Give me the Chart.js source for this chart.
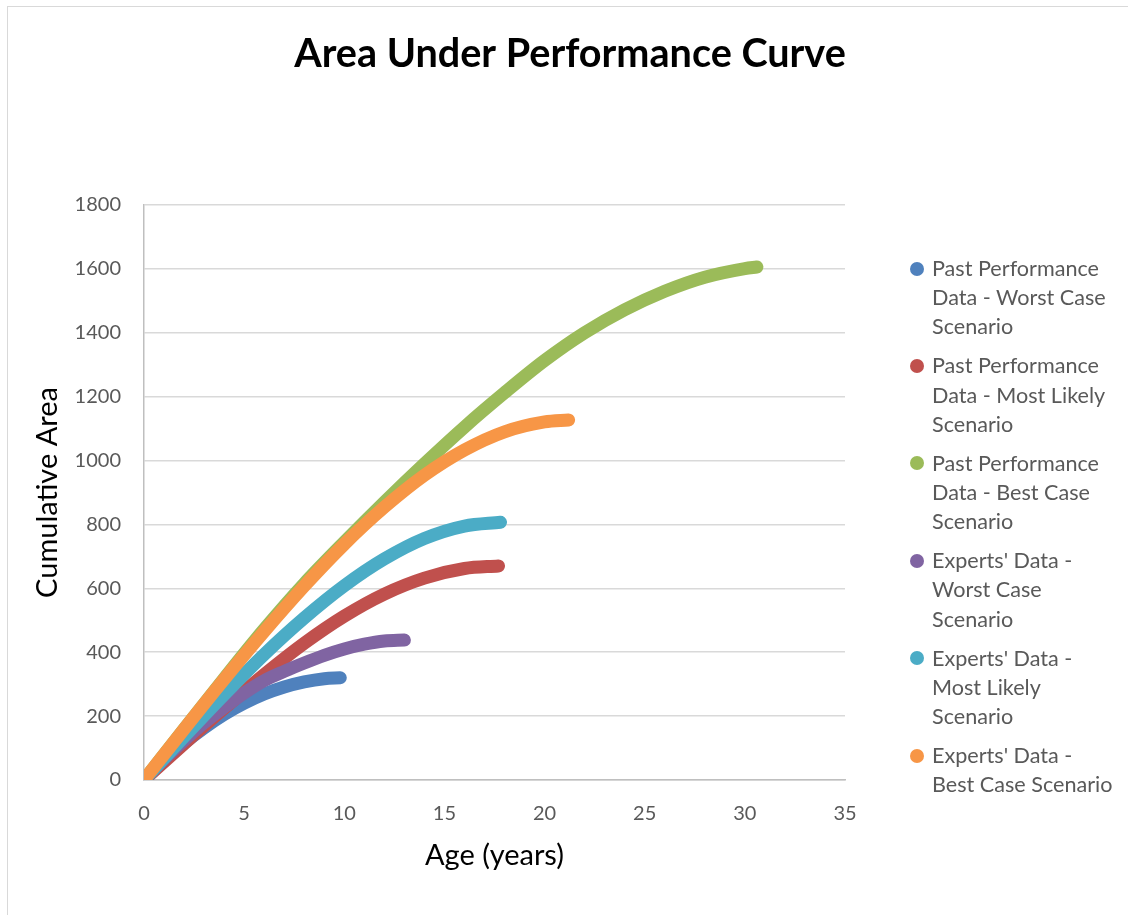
<!DOCTYPE html>
<html>
<head>
<meta charset="utf-8">
<script src="https://cdn.jsdelivr.net/npm/chart.js@4/dist/chart.umd.min.js"></script>
<style>
  html, body { margin: 0; padding: 0; background: #fff; }
  body { width: 1128px; height: 915px; position: relative; overflow: hidden; font-family: Lato, sans-serif; }
  #frame { position: absolute; left: 7px; top: 6px; width: 1300px; height: 1100px; border: 1px solid #d9d9d9; box-sizing: border-box; }
  #wrap { position: absolute; left: 0; top: 0; width: 1128px; height: 915px; }
  #legend { position: absolute; left: 910px; top: 254px; color: #595959; font-size: 21.6px; line-height: 29.2px; }
  .item { position: relative; padding-left: 22px; margin-bottom: 9.8px; white-space: nowrap; }
  .dot { position: absolute; left: 0; top: 7.6px; width: 14px; height: 14px; border-radius: 50%; }
</style>
</head>
<body>
<div id="frame"></div>
<div id="wrap"><canvas id="c" width="1128" height="915"></canvas></div>
<div id="legend"></div>
<script>
// Series: cumulative area under the performance curve vs. age (years)
const seriesNames = [
  "Past Performance Data - Worst Case Scenario",
  "Past Performance Data - Most Likely Scenario",
  "Past Performance Data - Best Case Scenario",
  "Experts' Data - Worst Case Scenario",
  "Experts' Data - Most Likely Scenario",
  "Experts' Data - Best Case Scenario"
];
// Legend label lines as wrapped in the legend box
const legendLines = [
  ["Past Performance", "Data - Worst Case", "Scenario"],
  ["Past Performance", "Data - Most Likely", "Scenario"],
  ["Past Performance", "Data - Best Case", "Scenario"],
  ["Experts' Data -", "Worst Case", "Scenario"],
  ["Experts' Data -", "Most Likely", "Scenario"],
  ["Experts' Data -", "Best Case Scenario"]
];
const seriesColors = ["#4F81BD", "#C0504D", "#9BBB59", "#8064A2", "#4BACC6", "#F79646"];

const pastWorstAge  = [0, 1, 2, 3, 4, 5, 6, 7, 8, 9, 9.8];
const pastWorstArea = [0, 61, 115, 163, 205, 240, 269, 291, 307, 317, 320];

const pastLikelyAge  = [0, 2, 4, 6, 8, 10, 12, 14, 16, 17.7];
const pastLikelyArea = [0, 113, 224, 330, 428, 513, 582, 632, 662, 670];

const pastBestAge  = [0, 2, 4, 6, 8, 10, 12, 14, 16, 18, 20, 22, 24, 26, 28, 30, 30.6];
const pastBestArea = [0, 160, 318, 472, 615, 745, 870, 990, 1105, 1212, 1313, 1400, 1472, 1530, 1574, 1601, 1606];

const expWorstAge  = [0, 1, 2, 3, 4, 5, 6, 7, 8, 9, 10, 11, 12, 13];
const expWorstArea = [0, 65, 124, 179, 228, 272, 311, 340, 366, 390, 410, 425, 435, 438];

const expLikelyAge  = [0, 2, 4, 6, 8, 10, 12, 14, 16, 17.8];
const expLikelyArea = [0, 135, 267, 393, 507, 608, 692, 756, 795, 807];

const expBestAge  = [0, 2, 4, 6, 8, 10, 12, 14, 16, 18, 20, 21.2];
const expBestArea = [0, 159, 315, 465, 607, 738, 854, 954, 1033, 1090, 1121, 1127];

const yTicks = [0, 200, 400, 600, 800, 1000, 1200, 1400, 1600, 1800];
const xTicks = [0, 5, 10, 15, 20, 25, 30, 35];

const ages  = [pastWorstAge, pastLikelyAge, pastBestAge, expWorstAge, expLikelyAge, expBestAge];
const areas = [pastWorstArea, pastLikelyArea, pastBestArea, expWorstArea, expLikelyArea, expBestArea];

const toPoints = (xs, ys) => xs.map((x, i) => ({ x: x, y: ys[i] }));

const datasets = seriesNames.map((name, i) => ({
  label: name,
  data: toPoints(ages[i], areas[i]),
  borderColor: seriesColors[i],
  backgroundColor: seriesColors[i],
  borderWidth: 13,
  borderCapStyle: 'round',
  borderJoinStyle: 'round',
  showLine: true,
  pointRadius: 0,
  pointHoverRadius: 0,
  cubicInterpolationMode: 'monotone',
  // later series are painted over earlier ones
  order: seriesNames.length - i
}));

const axisFont = { family: 'Lato', size: 20 };
const axisTitleFont = { family: 'Lato', size: 29 };

new Chart(document.getElementById('c'), {
  type: 'scatter',
  data: { datasets: datasets },
  options: {
    responsive: false,
    animation: false,
    layout: { padding: { top: 205, right: 283, bottom: 0, left: 0 } },
    plugins: {
      legend: { display: false },
      tooltip: { enabled: false },
      title: { display: false }
    },
    scales: {
      x: {
        type: 'linear',
        min: 0, max: 35,
        afterFit: s => { s.height = 135; },
        afterBuildTicks: s => { s.ticks = xTicks.map(v => ({ value: v })); },
        grid: { display: false, drawTicks: false },
        border: { display: true, color: '#bfbfbf', width: 1.5 },
        ticks: { color: '#595959', font: axisFont, padding: 22, maxRotation: 0, callback: v => String(v) },
        title: { display: true, text: 'Age (years)', color: '#000', font: axisTitleFont, padding: { top: 0, bottom: 42 } }
      },
      y: {
        type: 'linear',
        min: 0, max: 1800,
        afterFit: s => { s.width = 144; },
        afterBuildTicks: s => { s.ticks = yTicks.map(v => ({ value: v })); },
        grid: { color: '#d9d9d9', lineWidth: 1.5, drawTicks: false },
        border: { display: true, color: '#bfbfbf', width: 1.5 },
        ticks: { color: '#595959', font: axisFont, padding: 23, callback: v => String(v) },
        title: { display: true, text: 'Cumulative Area', color: '#000', font: axisTitleFont, padding: { top: 30, bottom: 0 } }
      }
    }
  },
  plugins: [{
    id: 'chartTitle',
    afterDraw(chart) {
      const ctx = chart.ctx;
      ctx.save();
      ctx.fillStyle = '#000';
      ctx.font = 'bold 39.6px Lato';
      ctx.textAlign = 'center';
      ctx.textBaseline = 'alphabetic';
      ctx.fillText('Area Under Performance Curve', 570, 67);
      ctx.restore();
    }
  }]
});

// Legend built from the series names and colours
const legend = document.getElementById('legend');
legendLines.forEach((lines, i) => {
  const item = document.createElement('div');
  item.className = 'item';
  item.title = seriesNames[i];
  const dot = document.createElement('span');
  dot.className = 'dot';
  dot.style.background = seriesColors[i];
  item.appendChild(dot);
  lines.forEach((ln, k) => {
    if (k > 0) item.appendChild(document.createElement('br'));
    item.appendChild(document.createTextNode(ln));
  });
  legend.appendChild(item);
});
</script>
</body>
</html>
